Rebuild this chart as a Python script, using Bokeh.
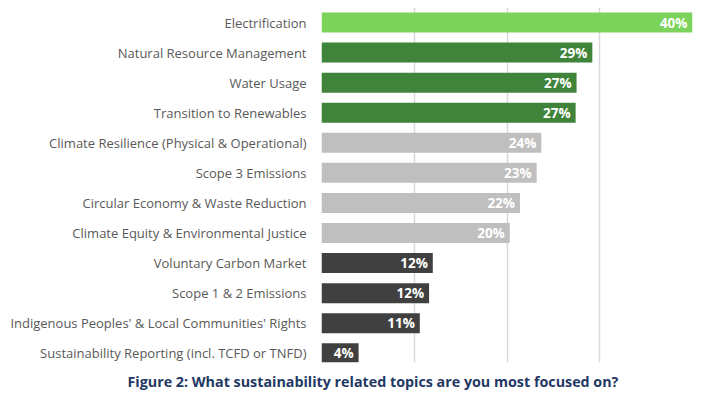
from bokeh.plotting import figure
from bokeh.models import ColumnDataSource, Title, FixedTicker, Range1d
from bokeh.embed import file_html
from bokeh.resources import INLINE

topics = [
    "Electrification",
    "Natural Resource Management",
    "Water Usage",
    "Transition to Renewables",
    "Climate Resilience (Physical & Operational)",
    "Scope 3 Emissions",
    "Circular Economy & Waste Reduction",
    "Climate Equity & Environmental Justice",
    "Voluntary Carbon Market",
    "Scope 1 & 2 Emissions",
    "Indigenous Peoples' & Local Communities' Rights",
    "Sustainability Reporting (incl. TCFD or TNFD)",
]
values = [40.0, 29.2, 27.5, 27.4, 23.7, 23.2, 21.4, 20.3, 12.0, 11.6, 10.6, 4.0]
value_labels = ["40%", "29%", "27%", "27%", "24%", "23%", "22%", "20%", "12%", "12%", "11%", "4%"]
colors = ["#7CD35B", "#3F843A", "#3F843A", "#3F843A",
          "#BFBFBF", "#BFBFBF", "#BFBFBF", "#BFBFBF",
          "#404040", "#404040", "#404040", "#404040"]
grid_ticks = [0, 10, 20, 30, 40]

FONT = "Open Sans"

n = len(topics)
ypos = [n - 1 - i for i in range(n)]  # first topic at the top
src = ColumnDataSource(dict(y=ypos, topic=topics, value=values, label=value_labels, color=colors))

p = figure(
    width=694, height=380, frame_width=371, frame_height=355,
    y_range=Range1d(-0.306, n - 1 + 0.499), x_range=(0, 40),
    output_backend="svg", toolbar_location=None,
    min_border_left=321, min_border_right=2, min_border_top=7, min_border_bottom=0,
)
p.outline_line_color = None
p.background_fill_color = "white"

p.hbar(y="y", right="value", left=0, height=0.665, color="color", source=src, line_color=None)
p.text(x="value", y="y", text="label", source=src, x_offset=-5,
       text_align="right", text_baseline="middle", text_color="white",
       text_font_size="13.5px", text_font_style="bold", text_font={"value": FONT})

p.xaxis.visible = False
p.xgrid.ticker = FixedTicker(ticks=grid_ticks)
p.xgrid.grid_line_color = "#D9D9D9"
p.xgrid.grid_line_width = 1.5
p.ygrid.grid_line_color = None

ax = p.yaxis[0]
ax.ticker = FixedTicker(ticks=ypos)
ax.major_label_overrides = {y: t for y, t in zip(ypos, topics)}
ax.axis_line_color = None
ax.major_tick_line_color = None
ax.minor_tick_line_color = None
ax.major_label_standoff = 9
ax.major_label_text_font = FONT
ax.major_label_text_font_size = "13px"
ax.major_label_text_color = "#595959"

t = Title(text="Figure 2: What sustainability related topics are you most focused on?",
          align="left", offset=-194, text_font=FONT, text_font_size="14.3px",
          text_font_style="bold", text_color="#1F3864", standoff=14)
p.add_layout(t, "below")

open("out.html", "w").write(file_html(p, INLINE))
